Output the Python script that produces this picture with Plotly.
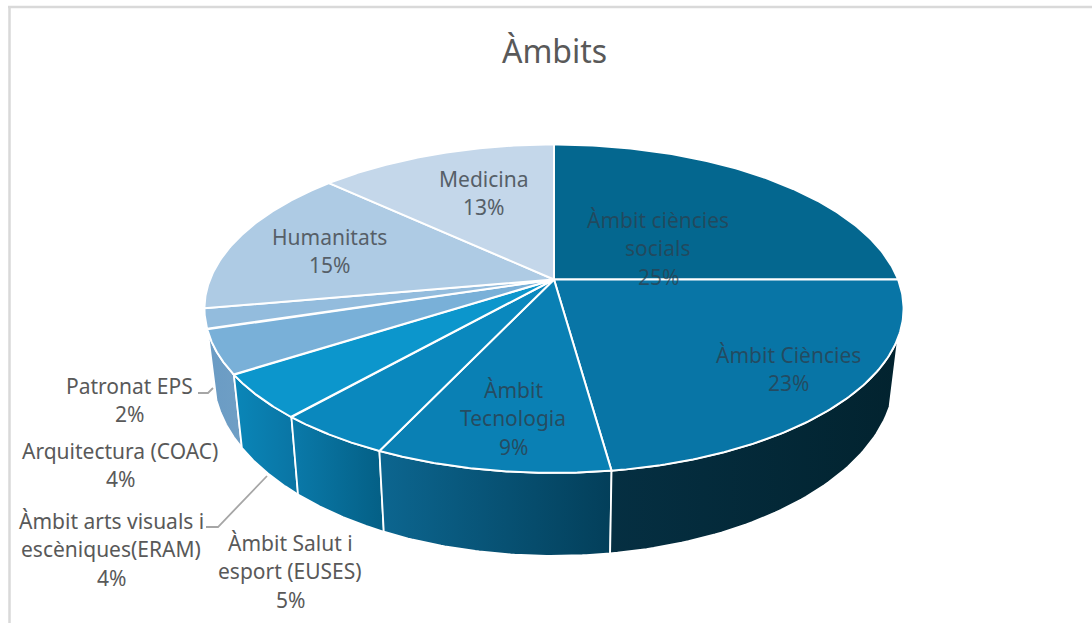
import numpy as np
import plotly.graph_objects as go

title = "Àmbits"
# Clockwise from 12 o'clock
categories = ["Àmbit ciències socials", "Àmbit Ciències", "Àmbit Tecnologia",
              "Àmbit Salut i esport (EUSES)", "Àmbit arts visuals i escèniques(ERAM)",
              "Arquitectura (COAC)", "Patronat EPS", "Humanitats", "Medicina"]
values = [25, 22.8, 9.2, 4.5, 4.4, 4.3, 2.0, 14.7, 13.1]
face_colors = ["#04678F", "#0875A6", "#0A80B4", "#0A88BE", "#0C96CC",
               "#79B0D8", "#93BCDD", "#AECBE4", "#C4D7EA"]
side_left = [None, "#052F42", "#0C6690", "#0A7AAA", "#0A86B8", "#6A9BC4", None, None, None]
side_right = [None, "#02232F", "#033F5A", "#045F85", "#0A74A3", "#6F9FC5", None, None, None]

label_lines = [["Àmbit ciències", "socials", "25%"], ["Àmbit Ciències", "23%"],
               ["Àmbit", "Tecnologia", "9%"], ["Àmbit Salut i", "esport (EUSES)", "5%"],
               ["Àmbit arts visuals i", "escèniques(ERAM)", "4%"],
               ["Arquitectura (COAC)", "4%"], ["Patronat EPS", "2%"],
               ["Humanitats", "15%"], ["Medicina", "13%"]]
label_centres = [(658, 248), (788, 369), (513, 418), (290, 571), (111, 549),
                 (120, 465), (129, 400), (329, 251), (483, 193)]
label_colors = ["rgba(45,62,75,0.72)", "rgba(45,62,75,0.75)", "rgba(45,62,75,0.8)", "#595959", "#595959",
                "#595959", "#595959", "#565f68", "#565f68"]

W, H = 1092, 623
CX, CY = 554, 279.5             # pie hub on screen
RX, RY, K = 344, 159, 0.178     # perspective of the top disc
BOT_S, BOT_Y, BOT_RY = 0.975, 343, 175   # lower disc


def top_pt(theta):
    u, v = np.sin(theta), np.cos(theta)
    d = 1 + K * v
    return CX + RX * u / d, CY - RY * v / d


def bot_pt(theta):
    u, v = np.sin(theta), np.cos(theta)
    d = 1 + K * v
    return CX + BOT_S * RX * u / d, BOT_Y - BOT_RY * v / d


fig = go.Figure()
cum = np.cumsum([0] + values) / sum(values) * 2 * np.pi
FRONT_A, FRONT_B = np.radians(110), np.radians(252)

# side walls, left to right so that each white seam stays visible
for i in range(len(values) - 1, -1, -1):
    a, b = max(cum[i], FRONT_A), min(cum[i + 1], FRONT_B)
    if b <= a or side_left[i] is None:
        continue
    t = np.linspace(a, b, 60)
    tx, ty = top_pt(t)
    bx, by = bot_pt(t)
    xs = np.r_[tx, bx[::-1], tx[0]]
    ys = np.r_[ty, by[::-1], ty[0]]
    fig.add_trace(go.Scatter(
        x=xs, y=ys, mode="lines", fill="toself", hoverinfo="skip", showlegend=False,
        line=dict(color="white", width=1.8),
        fillgradient=dict(type="horizontal",
                          colorscale=[[0, side_left[i]], [1, side_right[i]]]),
    ))

# top faces
for i in range(len(values)):
    t = np.linspace(cum[i], cum[i + 1], 120)
    ax, ay = top_pt(t)
    xs = np.r_[CX, ax, CX]
    ys = np.r_[CY, ay, CY]
    fig.add_trace(go.Scatter(
        x=xs, y=ys, mode="lines", fill="toself", fillcolor=face_colors[i],
        hoverinfo="skip", showlegend=False, name=categories[i],
        line=dict(color="white", width=2),
    ))

LINE_STEP = 28.5
annotations = [dict(x=554, y=50, text=title, showarrow=False, xanchor="center", yanchor="middle",
                    font=dict(family="Noto Sans", size=32, color="#595959"))]
for lines, (lx, ly), col in zip(label_lines, label_centres, label_colors):
    for j, txt in enumerate(lines):
        annotations.append(dict(
            x=lx, y=ly + (j - (len(lines) - 1) / 2) * LINE_STEP, text=txt, showarrow=False,
            xanchor="center", yanchor="middle",
            font=dict(family="Noto Sans", size=21, color=col)))

leader = dict(color="#A6A6A6", width=1.8)
border = dict(color="#D9D9D9", width=2.5)
shapes = [
    dict(type="line", x0=9.5, x1=9.5, y0=7, y1=H, line=border, layer="below"),
    dict(type="line", x0=8, x1=W, y0=7, y1=7, line=border, layer="below"),
    dict(type="path", path="M198,393 L208,393 L213,388", line=leader),
    dict(type="path", path="M206,527 L218,527 L267,476", line=leader),
]

fig.update_layout(
    width=W, height=H, margin=dict(l=0, r=0, t=0, b=0),
    paper_bgcolor="white", plot_bgcolor="white", showlegend=False,
    xaxis=dict(range=[0, W], visible=False, fixedrange=True),
    yaxis=dict(range=[H, 0], visible=False, fixedrange=True),
    annotations=annotations, shapes=shapes,
)
fig.write_html("out.html", config=dict(displayModeBar=False),
               post_script="document.body.style.margin='0';document.body.style.overflow='hidden';")
